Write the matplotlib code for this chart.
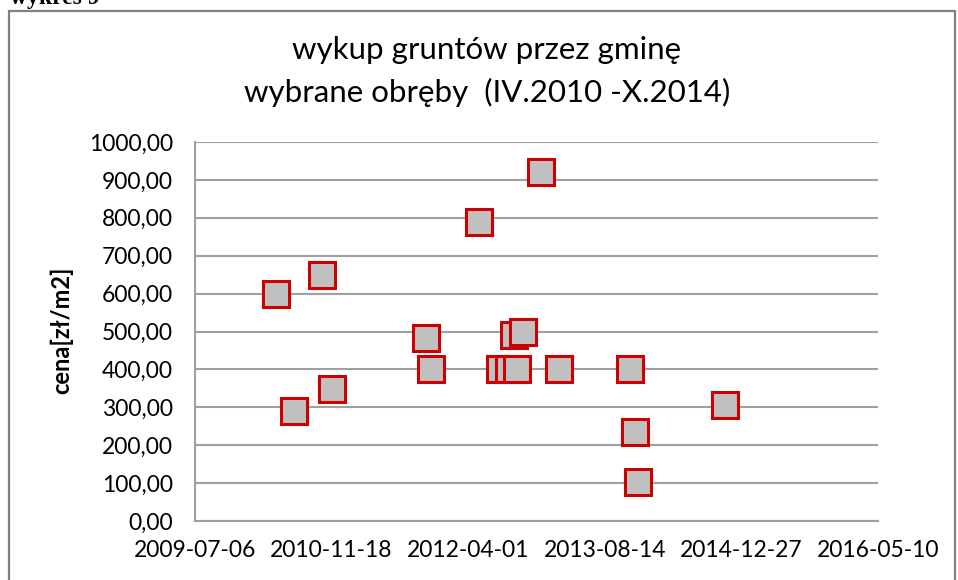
import matplotlib
matplotlib.use("Agg")
import matplotlib.pyplot as plt
import matplotlib.dates as mdates
import pandas as pd
from matplotlib.patches import Rectangle

dates = ["2010-04-28", "2010-07-03", "2010-10-13", "2010-11-19",
         "2011-10-29", "2011-11-17", "2012-05-11", "2012-12-23",
         "2012-07-26", "2012-08-28", "2012-09-25", "2012-09-16",
         "2012-10-19", "2013-02-27", "2013-11-16", "2013-12-01",
         "2013-12-13", "2014-10-29"]
prices = [600, 290, 650, 348,
          483, 400, 790, 920,
          400, 400, 400, 490,
          500, 400, 400, 235,
          103, 306]
x_ticks = ["2009-07-06", "2010-11-18", "2012-04-01", "2013-08-14",
           "2014-12-27", "2016-05-10"]
y_ticks = [0, 100, 200, 300, 400, 500, 600, 700, 800, 900, 1000]

title_lines = ["wykup gruntów przez gminę", "wybrane obręby  (IV.2010 -X.2014)"]
ylabel = "cena[zł/m2]"

plt.rcParams['font.family'] = ['Lato', 'DejaVu Sans']

W, H = 958, 580
fig = plt.figure(figsize=(W / 100, H / 100), dpi=100)

# outer frame
fig.patches.append(Rectangle((9 / W, -0.1), (955 - 9) / W, 1.1 - 11 / H,
                             transform=fig.transFigure, fill=False,
                             edgecolor='#808080', linewidth=1.6))
fig.text(10 / W, 1 - 4 / H, "wykres 9", family='Liberation Serif',
         fontweight='bold', fontsize=17, va='baseline', ha='left')

ax = fig.add_axes([195 / W, 1 - 521 / H, (878 - 195) / W, (521 - 142) / H])

xd = mdates.date2num(pd.to_datetime(dates))
ax.plot(xd, prices, linestyle='none', marker='s', markersize=19,
        markerfacecolor='#c0c0c0', markeredgecolor='#cc0000',
        markeredgewidth=2.2, zorder=3, clip_on=False)

xt = mdates.date2num(pd.to_datetime(x_ticks))
ax.set_xlim(xt[0], xt[-1])
ax.set_xticks(xt)
ax.set_xticklabels(x_ticks, fontsize=16.5)
ax.set_ylim(0, 1000)
ax.set_yticks(y_ticks)
ax.set_yticklabels([f"{v:.2f}".replace('.', ',') for v in y_ticks], fontsize=16.5)
ax.tick_params(length=0)
ax.tick_params(axis='x', pad=14)
ax.tick_params(axis='y', pad=16)
ax.grid(axis='y', color='#a0a0a0', linewidth=1.5)
ax.set_axisbelow(True)
for s in ['top', 'right']:
    ax.spines[s].set_visible(False)
for s in ['left', 'bottom']:
    ax.spines[s].set_color('#a0a0a0')
    ax.spines[s].set_linewidth(1.5)

fig.text(62 / W, 1 - 330 / H, ylabel, rotation=90, ha='center', va='center',
         fontsize=17, fontweight='bold')
fig.text(487 / W, 1 - 50 / H, title_lines[0], ha='center', va='center',
         fontsize=22.5)
fig.text(487 / W, 1 - 92 / H, title_lines[1], ha='center', va='center',
         fontsize=22.5)

fig.savefig("out.png", dpi=100)
